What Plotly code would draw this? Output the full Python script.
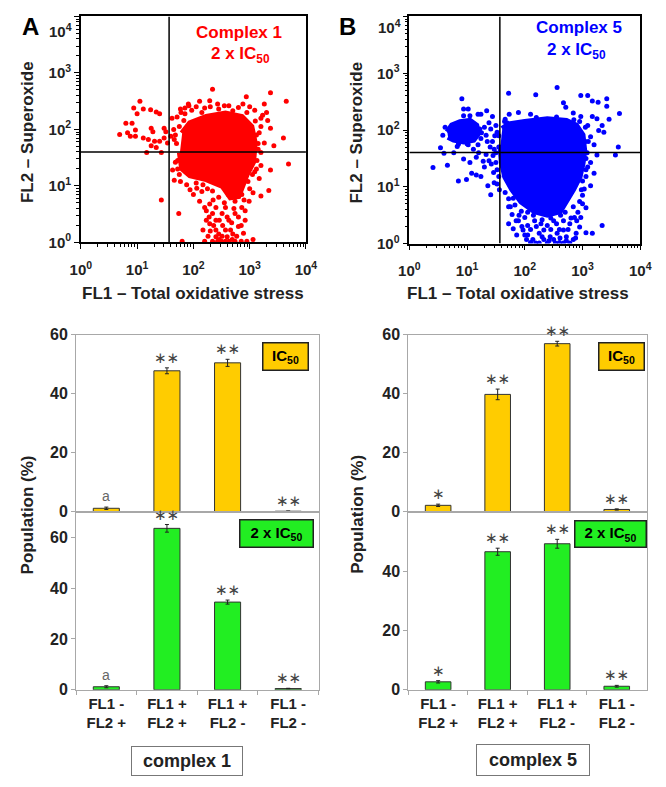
import plotly.graph_objects as go

W, H = 666, 787          # target picture size
OX, OY = 8, 8            # page body margin
FW, FH = W - 2 * OX, H - 2 * OY   # figure size so the page is exactly W x H

# ---------------- Scatter data (log10 of fluorescence) ----------------
# Complex 1, 2 x IC50 : dense core outline + individual events
c1_core_fl1 = [1.80, 1.94, 2.23, 2.57, 2.86, 3.03, 3.09, 3.06, 2.94, 2.86, 2.80, 2.66, 2.52, 2.23, 1.94, 1.80, 1.76]
c1_core_fl2 = [1.93, 2.11, 2.22, 2.28, 2.22, 2.05, 1.76, 1.42, 1.19, 0.98, 0.82, 0.80, 1.00, 1.12, 1.19, 1.31, 1.59]
c1_pts_fl1 = [1.05, 0.94, 1.11, 1.00, 1.24, 1.34, 1.40, 0.80, 0.91, 0.97, 0.69, 0.83, 0.88, 0.97, 1.11, 1.25, 1.28, 1.20, 1.31, 1.40,
              1.48, 1.51, 1.48, 1.25, 1.34, 1.17, 1.43, 1.54, 1.60, 1.66,
              2.34, 3.37, 3.65, 2.94, 2.11, 1.91, 1.77, 1.71, 1.83, 1.97, 2.29, 2.43, 2.63, 2.80, 3.09, 3.26, 3.23, 3.32, 3.37, 3.20,
              3.60, 3.43, 3.26, 3.17, 3.20, 2.05, 2.20, 2.45, 2.70, 2.95, 3.10, 1.85, 1.75, 1.70, 3.15, 3.13, 1.72,
              3.69, 3.37, 3.20, 3.09, 3.17, 3.34, 3.06, 3.20, 2.86, 2.74, 2.92, 2.80, 2.89, 3.06, 2.69, 2.57, 2.46, 2.34, 2.23, 2.29,
              2.17, 2.26, 2.34, 2.46, 2.63, 2.40, 2.51, 2.63, 2.11, 2.00, 1.88, 1.77, 1.94, 2.06, 1.74, 1.63, 1.68, 1.80, 1.43, 2.29,
              2.40, 2.57, 2.74, 2.66, 2.77, 2.23, 2.40, 2.51, 2.57, 2.43, 2.74, 2.92, 2.17, 2.34, 2.97, 2.86, 2.99]
c1_pts_fl2 = [2.50, 2.38, 2.36, 2.28, 2.35, 2.31, 2.28, 2.11, 2.11, 1.99, 1.91, 1.94, 1.88, 1.88, 1.85, 2.02, 1.96, 1.82, 1.79, 1.79,
              2.02, 1.96, 1.85, 1.71, 1.68, 1.59, 1.59, 1.76, 1.88, 1.82,
              2.71, 2.65, 2.50, 2.58, 2.50, 2.45, 2.36, 2.22, 2.16, 2.34, 2.51, 2.45, 2.42, 2.39, 2.34, 2.45, 2.25, 2.16, 2.02, 2.05,
              1.85, 1.71, 1.76, 1.94, 1.59, 2.40, 2.38, 2.36, 2.33, 2.30, 2.15, 2.28, 2.05, 1.75, 1.65, 1.45, 1.45,
              1.39, 1.28, 1.36, 1.25, 1.13, 0.92, 0.88, 0.82, 0.62, 0.51, 0.39, 0.28, 0.16, 0.05, 0.05, 0.22, 0.39, 0.51, 0.56, 0.33,
              0.22, 0.11, 0.02, 0.05, 0.02, 0.22, 0.51, 0.39, 0.73, 0.85, 1.02, 1.08, 0.93, 0.96, 0.51, 1.28, 1.42, 0.02, 0.75, 0.68,
              0.62, 0.62, 0.73, 0.22, 0.11, 0.39, 0.39, 0.11, 0.02, 0.02, 0.02, 0.56, 1.02, 0.91, 1.08, 0.85, 0.73]
c1_more_fl1 = [1.62, 1.65, 1.68, 1.72, 1.66, 1.75, 1.78, 1.85, 1.92, 2.20, 2.28, 2.36, 2.45, 2.52, 2.60, 2.68, 2.72, 2.80, 2.85,
               2.70, 2.60, 2.50, 2.40, 2.30, 2.35, 2.45, 2.55, 2.62, 2.90, 2.15, 2.25, 2.05, 3.00, 2.95, 2.85, 2.20, 3.12,
               3.15, 3.12, 3.05, 3.20, 3.30, 3.00, 2.88, 2.55, 2.30, 2.15]
c1_more_fl2 = [2.20, 2.00, 1.90, 1.30, 1.10, 1.20, 2.30, 2.38, 2.42, 0.62, 0.45, 0.30, 0.15, 0.30, 0.45, 0.35, 0.60, 0.45, 0.30,
               0.15, 0.10, 0.02, 0.10, 0.20, 0.75, 0.80, 0.70, 0.85, 0.75, 0.90, 0.95, 1.05, 0.95, 0.02, 0.02, 0.02, 1.90,
               1.75, 1.30, 1.20, 2.20, 2.30, 2.40, 2.45, 2.42, 2.40, 2.30]

# Complex 5, 2 x IC50
c5_core_fl1 = [1.61, 1.72, 2.00, 2.39, 2.72, 2.89, 3.00, 3.03, 3.00, 2.95, 2.84, 2.72, 2.61, 2.39, 2.17, 1.94, 1.78, 1.66, 1.60, 1.58]
c5_core_fl2 = [2.02, 2.10, 2.14, 2.19, 2.16, 2.08, 1.91, 1.63, 1.41, 1.18, 0.96, 0.74, 0.57, 0.51, 0.57, 0.74, 0.96, 1.18, 1.46, 1.74]
c5_blob_fl1 = [0.66, 0.74, 0.88, 1.05, 1.16, 1.19, 1.11, 0.94, 0.77, 0.67]
c5_blob_fl2 = [1.96, 2.08, 2.14, 2.16, 2.08, 1.94, 1.83, 1.80, 1.83, 1.88]
c5_pts_fl1 = [0.91, 1.72, 2.19, 2.56, 2.97, 3.09, 3.17, 3.27, 3.42, 3.42, 3.64, 2.67, 2.71, 1.89, 2.10, 1.73, 1.66, 1.69, 1.44, 1.34,
              1.19, 1.24, 0.94, 1.02, 0.94, 1.05, 2.84, 2.97, 3.17, 3.25, 3.46, 3.34, 3.28, 3.14, 3.09, 3.20, 3.37,
              3.62, 3.57, 3.25, 3.14, 3.09, 3.20, 3.06, 3.14, 3.03, 3.34, 3.17, 3.06,
              0.58, 0.54, 0.60, 0.77, 0.83, 1.02, 1.11, 1.19, 1.24, 1.33, 1.41, 1.50, 1.38, 1.52, 1.44, 1.47, 1.33, 0.41, 0.66, 0.85,
              0.99, 1.08, 1.16, 1.24, 1.30, 1.38, 1.50, 1.52, 1.41, 1.36, 1.47, 1.55, 1.05, 0.94, 1.16,
              1.72, 1.78, 1.89, 1.97, 2.05, 2.14, 2.25, 2.39, 2.53, 2.67, 2.78, 2.84, 2.89, 2.95, 2.97, 2.86, 2.78, 2.67, 2.56, 2.44,
              2.33, 2.28, 2.17, 2.05, 2.00, 1.94, 1.83, 1.72, 1.66, 1.80, 1.86, 2.03, 2.19, 2.33, 2.50, 2.61, 2.72, 2.25, 2.39, 2.50,
              2.67, 2.84, 2.95, 3.06, 1.72, 3.00, 1.65, 2.20, 2.55, 2.85, 3.05, 3.06, 2.45, 2.30, 2.62]
c5_pts_fl2 = [2.55, 2.65, 2.62, 2.75, 2.61, 2.61, 2.51, 2.49, 2.55, 2.42, 2.29, 2.48, 2.40, 2.31, 2.28, 2.28, 2.19, 2.13, 2.24, 2.34,
              2.28, 2.28, 2.37, 2.37, 2.25, 2.25, 2.30, 2.24, 2.24, 2.20, 2.19, 2.08, 1.99, 1.88, 2.08, 1.74, 1.96,
              1.70, 1.56, 1.56, 1.43, 1.35, 1.24, 1.18, 1.02, 0.96, 0.32, 0.18, 0.19,
              1.91, 1.69, 1.59, 1.60, 1.71, 1.74, 1.66, 1.74, 1.85, 1.91, 2.02, 2.08, 2.13, 1.96, 1.80, 1.66, 1.57, 1.34, 1.38, 1.10,
              1.13, 1.24, 1.21, 1.18, 1.35, 1.46, 1.43, 1.30, 0.86, 1.02, 1.07, 1.18, 1.43, 1.49, 1.52,
              0.65, 0.51, 0.40, 0.24, 0.15, 0.07, 0.01, 0.01, 0.01, 0.01, 0.01, 0.07, 0.18, 0.29, 0.46, 0.46, 0.35, 0.24, 0.18, 0.12,
              0.24, 0.35, 0.40, 0.32, 0.46, 0.57, 0.68, 0.79, 0.90, 0.26, 0.15, 0.07, 0.01, 0.07, 0.07, 0.10, 0.12, 0.18, 0.32, 0.40,
              0.40, 0.65, 0.74, 0.63, 0.35, 0.85, 2.15, 2.22, 2.23, 2.18, 1.80, 1.50, 0.45, 0.42, 0.50]
c5_more_fl1 = [1.25, 1.30, 1.35, 1.40, 1.45, 1.50, 1.55, 1.55, 1.48, 1.42, 1.46, 1.52, 1.56, 1.20, 1.28, 0.62, 1.22, 1.00, 0.85,
               1.85, 1.95, 2.10, 2.20, 2.30, 2.45, 2.55, 2.60, 2.75, 2.80, 2.90, 2.70, 2.15, 2.05, 1.90, 2.00, 2.42, 2.60,
               2.72, 2.88, 2.10, 1.75, 1.80, 2.92, 3.00, 3.08, 3.10, 3.06, 3.00, 2.95, 3.05, 2.98]
c5_more_fl2 = [1.95, 2.05, 1.80, 1.70, 1.55, 1.60, 1.70, 1.90, 1.90, 1.40, 1.25, 1.05, 0.95, 1.60, 1.45, 2.05, 2.02, 1.76, 1.75,
               0.40, 0.30, 0.25, 0.30, 0.12, 0.25, 0.35, 0.25, 0.25, 0.45, 0.40, 0.55, 0.50, 0.55, 0.50, 0.15, 0.05, 0.02,
               0.05, 0.10, 0.02, 0.65, 0.80, 0.55, 0.70, 1.60, 1.80, 1.30, 1.10, 2.15, 2.05, 0.95]

gate_fl1 = 37   # FL1 quadrant gate
gate_fl2 = 40   # FL2 quadrant gate

# ---------------- Bar data ----------------
categories = ["FL1 -<br>FL2 +", "FL1 +<br>FL2 +", "FL1 +<br>FL2 -", "FL1 -<br>FL2 -"]
c1_ic50 = [1.2, 47.8, 50.5, 0.2]
c1_ic50_err = [0.4, 1.0, 1.2, 0.1]
c1_2x = [1.2, 63.5, 34.5, 0.5]
c1_2x_err = [0.4, 1.5, 0.8, 0.1]
c5_ic50 = [2.2, 39.8, 57.0, 0.8]
c5_ic50_err = [0.4, 1.8, 0.8, 0.2]
c5_2x = [2.7, 46.7, 49.4, 1.2]
c5_2x_err = [0.4, 1.2, 1.5, 0.3]
c1_ic50_sig = ["a", "∗∗", "∗∗", "∗∗"]
c1_2x_sig = ["a", "∗∗", "∗∗", "∗∗"]
c5_ic50_sig = ["∗", "∗∗", "∗∗", "∗∗"]
c5_2x_sig = ["∗", "∗∗", "∗∗", "∗∗"]

YELLOW = "#FFCC00"
GREEN = "#22EE22"
RED = "#FF0000"
BLUE = "#0000FF"
FONT = "Liberation Sans, Arial, sans-serif"


# page-pixel -> figure paper coordinates
def dx(a, b):
    return [max(0, (a - OX) / FW), min(1, (b - OX) / FW)]


def dy(top, bottom):
    return [1 - (bottom - OY) / FH, 1 - (top - OY) / FH]


def px(x):
    return (x - OX) / FW


def py(y):
    return 1 - (y - OY) / FH


def lin(v):
    return [10 ** a for a in v]


fig = go.Figure()

# ---- scatter panels ----
for (core_x, core_y, pts_x, pts_y, col, xa, ya, extra) in [
    (c1_core_fl1, c1_core_fl2, c1_pts_fl1 + c1_more_fl1, c1_pts_fl2 + c1_more_fl2, RED, "x", "y", None),
    (c5_core_fl1, c5_core_fl2, c5_pts_fl1 + c5_more_fl1, c5_pts_fl2 + c5_more_fl2, BLUE, "x2", "y2",
     (c5_blob_fl1, c5_blob_fl2)),
]:
    fig.add_trace(go.Scatter(x=lin(core_x), y=lin(core_y), mode="lines", fill="toself",
                             fillcolor=col, line=dict(color=col, width=6),
                             xaxis=xa, yaxis=ya, showlegend=False, hoverinfo="skip"))
    if extra:
        fig.add_trace(go.Scatter(x=lin(extra[0]), y=lin(extra[1]), mode="lines", fill="toself",
                                 fillcolor=col, line=dict(color=col, width=6),
                                 xaxis=xa, yaxis=ya, showlegend=False, hoverinfo="skip"))
    fig.add_trace(go.Scatter(x=lin(pts_x), y=lin(pts_y), mode="markers",
                             marker=dict(color=col, size=5, line=dict(width=0)),
                             xaxis=xa, yaxis=ya, showlegend=False))
    fig.add_trace(go.Scatter(x=[gate_fl1, gate_fl1], y=[1, 1e4], mode="lines",
                             line=dict(color="black", width=1.5), xaxis=xa, yaxis=ya, showlegend=False))
    fig.add_trace(go.Scatter(x=[1, 1e4], y=[gate_fl2, gate_fl2], mode="lines",
                             line=dict(color="black", width=1.5), xaxis=xa, yaxis=ya, showlegend=False))

major = [1, 10, 100, 1000, 10000]
major_txt = ["<b>10<sup>%d</sup></b>" % i for i in range(5)]
major_txt_y = major_txt[:4] + [""]      # top label drawn separately (sits lower, as in the figure)
minor_vals = [m * 10 ** d for d in range(4) for m in range(2, 10)]

log_axis = dict(type="log", range=[0, 4], showline=True, mirror=True, linecolor="black", linewidth=1.5,
                ticks="outside", ticklen=5, tickcolor="black", tickvals=major, ticktext=major_txt,
                tickfont=dict(family=FONT, size=15, color="#222"), showgrid=False, zeroline=False,
                minor=dict(tickmode="array", tickvals=minor_vals, ticks="outside", ticklen=3, tickcolor="black"))

# ---- bar panels ----
def add_bars(vals, err, color, xa, ya):
    fig.add_trace(go.Bar(x=categories, y=vals, width=0.43, marker=dict(color=color, line=dict(color="#333", width=1)),
                         error_y=dict(type="data", array=err, color="#222", thickness=1, width=2),
                         xaxis=xa, yaxis=ya, showlegend=False))


add_bars(c1_ic50, c1_ic50_err, YELLOW, "x3", "y3")
add_bars(c1_2x, c1_2x_err, GREEN, "x4", "y4")
add_bars(c5_ic50, c5_ic50_err, YELLOW, "x5", "y5")
add_bars(c5_2x, c5_2x_err, GREEN, "x6", "y6")

GRAY = "#a8a8a8"
bar_x_top = dict(type="category", showticklabels=False, showline=True, mirror=True, linecolor=GRAY,
                 ticks="", showgrid=False, zeroline=False)
bar_x_bot = dict(type="category", showticklabels=True, showline=True, mirror=True, linecolor=GRAY,
                 ticks="outside", tickson="boundaries", ticklen=4, tickcolor=GRAY, showgrid=False,
                 tickfont=dict(family=FONT, size=15, color="#222"))
bar_y = dict(showline=True, mirror=True, linecolor=GRAY, ticks="outside", ticklen=4, tickcolor=GRAY,
             showgrid=False, zeroline=False, tickfont=dict(family=FONT, size=16, color="#222"))

fig.update_layout(
    width=FW, height=FH, margin=dict(l=0, r=0, t=0, b=0),
    paper_bgcolor="white", plot_bgcolor="white", bargap=0.5,
    font=dict(family=FONT),
    xaxis=dict(log_axis, domain=dx(72, 305), anchor="y", ticklabelstandoff=8),
    yaxis=dict(log_axis, domain=dy(8.5, 239.5), anchor="x", ticktext=major_txt_y),
    xaxis2=dict(log_axis, domain=dx(412, 651), anchor="y2", ticklabelstandoff=8),
    yaxis2=dict(log_axis, domain=dy(8.5, 240.7), anchor="x2", ticktext=major_txt_y),
    xaxis3=dict(bar_x_top, domain=dx(67, 318), anchor="y3"),
    yaxis3=dict(bar_y, domain=dy(334, 515), anchor="x3", range=[0, 60], tickvals=[0, 20, 40, 60],
                ticktext=["<b>0</b>", "<b>20</b>", "<b>40</b>", "<b>60</b>"]),
    xaxis4=dict(bar_x_bot, domain=dx(67, 318), anchor="y4", tickvals=categories,
                ticktext=["<b>%s</b>" % c for c in categories]),
    yaxis4=dict(bar_y, domain=dy(515, 697), anchor="x4", range=[0, 70], tickvals=[0, 20, 40, 60],
                ticktext=["<b>0</b>", "<b>20</b>", "<b>40</b>", "<b>60</b>"]),
    xaxis5=dict(bar_x_top, domain=dx(411, 657.5), anchor="y5"),
    yaxis5=dict(bar_y, domain=dy(334, 515), anchor="x5", range=[0, 60], tickvals=[0, 20, 40, 60],
                ticktext=["<b>0</b>", "<b>20</b>", "<b>40</b>", "<b>60</b>"]),
    xaxis6=dict(bar_x_bot, domain=dx(411, 657.5), anchor="y6", tickvals=categories,
                ticktext=["<b>%s</b>" % c for c in categories]),
    yaxis6=dict(bar_y, domain=dy(515, 697), anchor="x6", range=[0, 60.2], tickvals=[0, 20, 40],
                ticktext=["<b>0</b>", "<b>20</b>", "<b>40</b>"]),
)

ann = []


def text(x, y, t, size, color="#222", angle=0, bold=True, family=FONT, xanchor="center"):
    ann.append(dict(xref="paper", yref="paper", x=px(x), y=py(y), text=("<b>%s</b>" % t) if bold else t,
                    showarrow=False, xanchor=xanchor, yanchor="middle", textangle=angle,
                    font=dict(family=family, size=size, color=color)))


# top y tick label of each scatter panel (drawn a little below its tick, as in the original)
for ya, xpos, shift in [("y", 65, -14), ("y2", 405, -10)]:
    ann.append(dict(xref="paper", yref=ya, x=px(xpos), y=4, text=major_txt[4], showarrow=False,
                    xanchor="right", yanchor="middle", yshift=shift,
                    font=dict(family=FONT, size=15, color="#222")))

# panel letters
text(9, 19, "A", 24, "black", xanchor="left")
text(337, 19, "B", 24, "black", xanchor="left")
# scatter titles
text(236, 25, "Complex 1", 17, RED)
text(237, 48, "2 x IC<sub>50</sub>", 17, RED)
text(588, 20, "Complex 5", 17, BLUE)
text(585, 44, "2 x IC<sub>50</sub>", 17, BLUE)
text(17, 127, "FL2 – Superoxide", 17, "#222", -90)
text(357, 127, "FL2 – Superoxide", 17, "#222", -90)
text(188, 292, "FL1 – Total oxidative stress", 17, "#222")
text(524, 292, "FL1 – Total oxidative stress", 17, "#222")
# bar y titles
text(17, 518, "Population (%)", 17, "#222", -90)
text(359, 518, "Population (%)", 17, "#222", -90)


def box(x, y, t, color, w, h, border="#222", bw=1.5, size=15, tcolor="black"):
    ann.append(dict(xref="paper", yref="paper", x=px(x), y=py(y), text="<b>%s</b>" % t, showarrow=False,
                    xanchor="center", yanchor="middle", bgcolor=color, bordercolor=border, borderwidth=bw,
                    borderpad=1, width=w, height=h, font=dict(family=FONT, size=size, color=tcolor)))


box(283.5, 356.5, "IC<sub>50</sub>", YELLOW, 42, 24)
box(274.5, 537.5, "2 x IC<sub>50</sub>", GREEN, 70, 24)
box(632, 356.5, "IC<sub>50</sub>", YELLOW, 42, 24)
box(620.5, 537.5, "2 x IC<sub>50</sub>", GREEN, 68, 23)
box(181.5, 770, "complex 1", "white", 108, 26, border="#777", bw=1, size=18, tcolor="#222")
box(540.5, 768.5, "complex 5", "white", 110, 28, border="#777", bw=1, size=18, tcolor="#222")

# significance labels
for vals, err, sig, xa, ya in [(c1_ic50, c1_ic50_err, c1_ic50_sig, "x3", "y3"),
                               (c1_2x, c1_2x_err, c1_2x_sig, "x4", "y4"),
                               (c5_ic50, c5_ic50_err, c5_ic50_sig, "x5", "y5"),
                               (c5_2x, c5_2x_err, c5_2x_sig, "x6", "y6")]:
    for c, v, e, s in zip(categories, vals, err, sig):
        is_a = s == "a"
        ann.append(dict(xref=xa, yref=ya, x=c, y=v + e, text=s, showarrow=False, yanchor="bottom",
                        yshift=1 if is_a else -1,
                        font=dict(family=FONT if is_a else "DejaVu Sans", size=14 if is_a else 15,
                                  color="#666" if is_a else "#444")))

fig.update_layout(annotations=ann)
fig.write_html("out.html", config={"displayModeBar": False})
